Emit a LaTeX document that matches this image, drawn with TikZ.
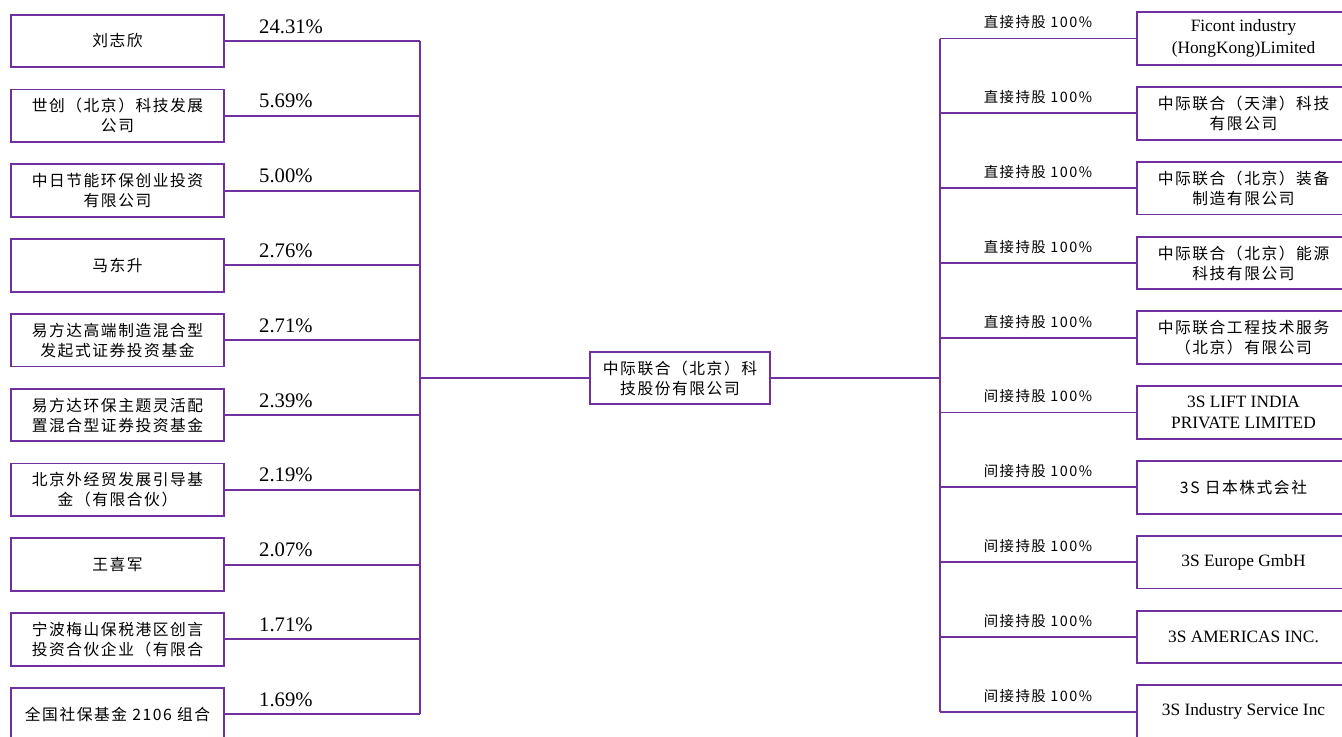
\documentclass[tikz,border=0pt]{standalone}
\usepackage{fontspec}
\setmainfont{Liberation Serif}
\newfontfamily\cjk[LetterSpace=10]{Noto Sans CJK SC}
\usetikzlibrary{positioning}
\definecolor{linkpurple}{RGB}{112,48,160}
\tikzset{
  holder/.style={draw=linkpurple,line width=1.4pt,minimum width=160pt,minimum height=39.5pt,
    inner sep=0pt,align=center,font=\cjk\fontsize{11.8}{15}\selectfont},
  firm/.style={holder,font=\fontsize{13}{16}\selectfont},
  link/.style={draw=linkpurple,line width=1.4pt},
  pct/.style={anchor=base west,inner sep=0pt,yshift=6pt,font=\fontsize{15.5}{15}\selectfont},
  own/.style={anchor=base,inner sep=0pt,yshift=8pt,font=\cjk\fontsize{10.8}{11}\selectfont}
}
\begin{document}
\begin{tikzpicture}[x=0.75pt,y=-0.75pt]
  \useasboundingbox (0,0) rectangle (1342,736);
  \coordinate (lbus) at (420,378);
  \coordinate (rbus) at (940,378);
  % shareholders
  \node[holder] (sh1) at (117.5,41) {刘志欣};
  \node[holder, below=15.2pt of sh1] (sh2) {世创（北京）科技发展\\公司};
  \node[holder, below=15.2pt of sh2] (sh3) {中日节能环保创业投资\\有限公司};
  \node[holder, below=15.2pt of sh3] (sh4) {马东升};
  \node[holder, below=15.2pt of sh4] (sh5) {易方达高端制造混合型\\发起式证券投资基金};
  \node[holder, below=15.2pt of sh5] (sh6) {易方达环保主题灵活配\\置混合型证券投资基金};
  \node[holder, below=15.2pt of sh6] (sh7) {北京外经贸发展引导基\\金（有限合伙）};
  \node[holder, below=15.2pt of sh7] (sh8) {王喜军};
  \node[holder, below=15.2pt of sh8] (sh9) {宁波梅山保税港区创言\\投资合伙企业（有限合};
  \node[holder, below=15.2pt of sh9] (sh10) {全国社保基金 2106 组合};
  % company
  \node[holder, minimum width=135pt, minimum height=39pt] (main) at (680,378) {中际联合（北京）科\\技股份有限公司};
  % subsidiaries
  \node[firm] (sub1) at (1243.5,38.5) {Ficont industry\\(HongKong)Limited};
  \node[holder, below=15.2pt of sub1] (sub2) {中际联合（天津）科技\\有限公司};
  \node[holder, below=15.2pt of sub2] (sub3) {中际联合（北京）装备\\制造有限公司};
  \node[holder, below=15.2pt of sub3] (sub4) {中际联合（北京）能源\\科技有限公司};
  \node[holder, below=15.2pt of sub4] (sub5) {中际联合工程技术服务\\（北京）有限公司};
  \node[firm, below=15.2pt of sub5] (sub6) {3S LIFT INDIA\\PRIVATE LIMITED};
  \node[holder, below=15.2pt of sub6] (sub7) {3S 日本株式会社};
  \node[firm, below=15.2pt of sub7] (sub8) {3S Europe GmbH};
  \node[firm, below=15.2pt of sub8] (sub9) {3S AMERICAS INC.};
  \node[firm, below=15.2pt of sub9] (sub10) {3S Industry Service Inc};
  % left side
  \draw[link] (sh1.east -| lbus) -- (sh10.east -| lbus);
  \draw[link] (sh1.east) -- (sh1.east -| lbus) node[pct, pos=0.17] {24.31\%};
  \draw[link] (sh2.east) -- (sh2.east -| lbus) node[pct, pos=0.17] {5.69\%};
  \draw[link] (sh3.east) -- (sh3.east -| lbus) node[pct, pos=0.17] {5.00\%};
  \draw[link] (sh4.east) -- (sh4.east -| lbus) node[pct, pos=0.17] {2.76\%};
  \draw[link] (sh5.east) -- (sh5.east -| lbus) node[pct, pos=0.17] {2.71\%};
  \draw[link] (sh6.east) -- (sh6.east -| lbus) node[pct, pos=0.17] {2.39\%};
  \draw[link] (sh7.east) -- (sh7.east -| lbus) node[pct, pos=0.17] {2.19\%};
  \draw[link] (sh8.east) -- (sh8.east -| lbus) node[pct, pos=0.17] {2.07\%};
  \draw[link] (sh9.east) -- (sh9.east -| lbus) node[pct, pos=0.17] {1.71\%};
  \draw[link] (sh10.east) -- (sh10.east -| lbus) node[pct, pos=0.17] {1.69\%};
  \draw[link] (lbus) -- (main.west);
  % right side
  \draw[link] (main.east) -- (rbus);
  \draw[link] (sub1.west -| rbus) -- (sub10.west -| rbus);
  \draw[link] (sub1.west -| rbus) -- (sub1.west) node[own, midway] {直接持股 100\%};
  \draw[link] (sub2.west -| rbus) -- (sub2.west) node[own, midway] {直接持股 100\%};
  \draw[link] (sub3.west -| rbus) -- (sub3.west) node[own, midway] {直接持股 100\%};
  \draw[link] (sub4.west -| rbus) -- (sub4.west) node[own, midway] {直接持股 100\%};
  \draw[link] (sub5.west -| rbus) -- (sub5.west) node[own, midway] {直接持股 100\%};
  \draw[link] (sub6.west -| rbus) -- (sub6.west) node[own, midway] {间接持股 100\%};
  \draw[link] (sub7.west -| rbus) -- (sub7.west) node[own, midway] {间接持股 100\%};
  \draw[link] (sub8.west -| rbus) -- (sub8.west) node[own, midway] {间接持股 100\%};
  \draw[link] (sub9.west -| rbus) -- (sub9.west) node[own, midway] {间接持股 100\%};
  \draw[link] (sub10.west -| rbus) -- (sub10.west) node[own, midway] {间接持股 100\%};
\end{tikzpicture}
\end{document}
